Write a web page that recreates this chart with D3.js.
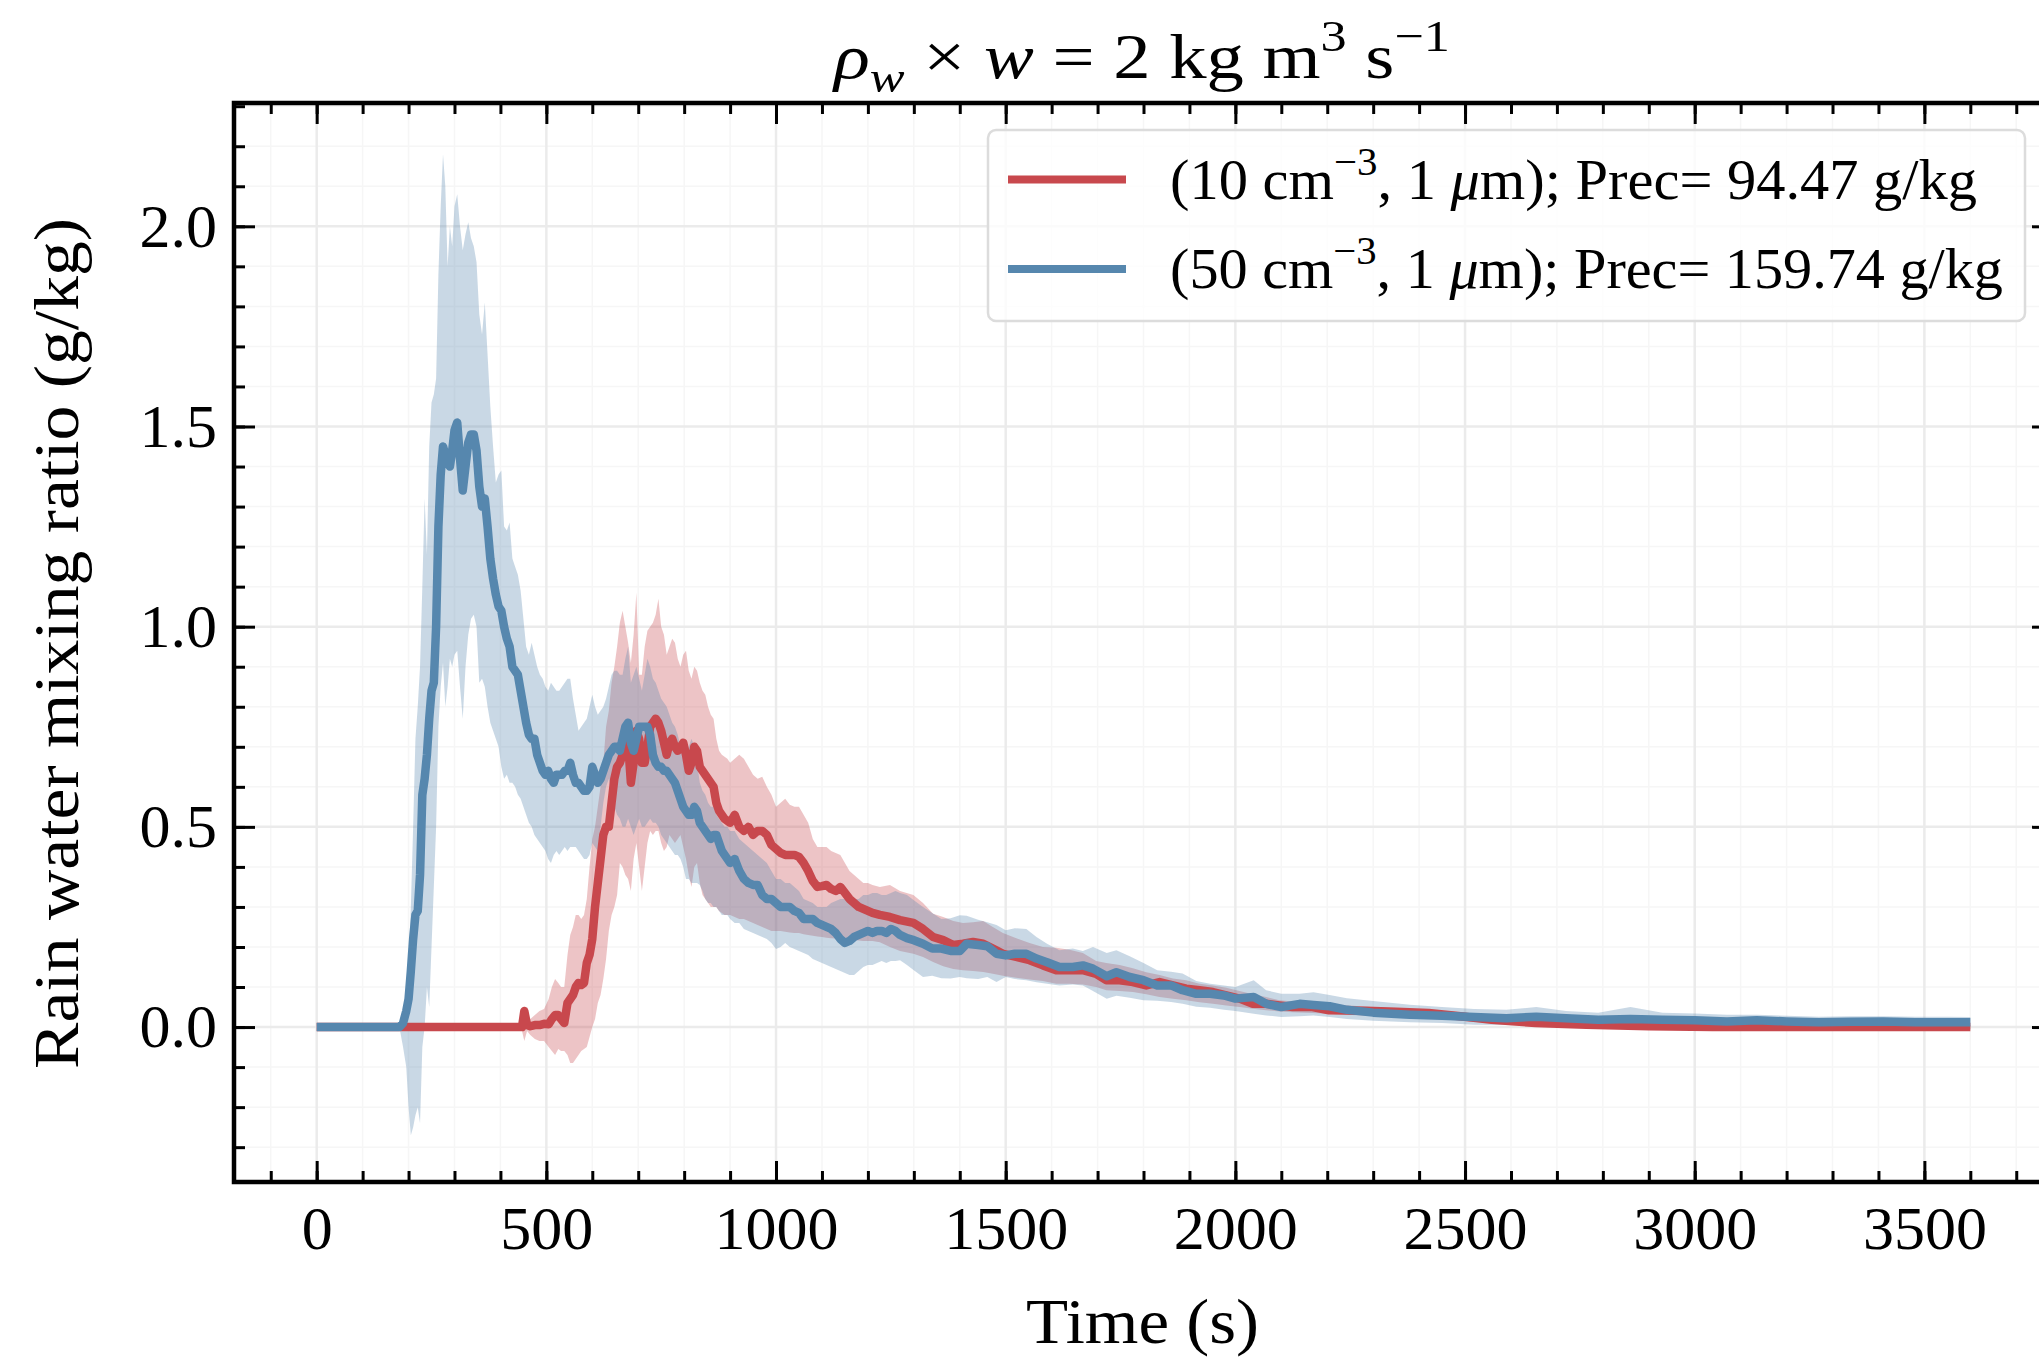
<!DOCTYPE html>
<html>
<head>
<meta charset="utf-8">
<script src="https://cdn.jsdelivr.net/npm/d3@7"></script>
<style>
  body { margin: 0; background: #fff; }
  svg { display: block; font-family: "Liberation Serif", "DejaVu Serif", serif; }
</style>
</head>
<body>
<div id="chart"></div>
<script>
// Rain water mixing ratio, two aerosol setups: [time (s), mean, lower, upper] (g/kg)
const blueRows = [
  [0,0,0,0],[180,0,0,0],[188,0.01,-0.05,0.03],[195,0.04,-0.1,0.08],[200,0.07,-0.2,0.15],
  [205,0.14,-0.27,0.3],[210,0.22,-0.25,0.5],[215,0.28,-0.22,0.72],[220,0.29,-0.2,0.8],
  [225,0.38,-0.24,0.9],[230,0.58,-0.05,1.1],[235,0.62,0.0,1.32],[240,0.68,0.1,1.18],
  [245,0.77,0.05,1.45],[250,0.84,0.2,1.56],[255,0.86,0.35,1.58],[260,1.0,0.5,1.62],
  [265,1.25,0.75,1.88],[270,1.38,0.85,2.05],[275,1.45,0.91,2.18],[280,1.43,0.8,2.1],
  [285,1.41,0.85,1.9],[290,1.40,0.92,2.0],[295,1.44,0.9,1.95],[300,1.49,0.93,2.05],
  [306,1.51,0.94,2.08],[312,1.42,0.85,2.0],[318,1.34,0.77,1.94],[324,1.40,0.9,1.98],
  [330,1.46,0.98,2.01],[336,1.48,1.02,1.97],[342,1.48,1.03,1.95],[348,1.44,1.0,1.91],
  [354,1.35,0.86,1.78],[360,1.30,0.87,1.73],[366,1.32,0.85,1.81],[372,1.25,0.8,1.68],
  [378,1.17,0.76,1.55],[384,1.12,0.74,1.45],[390,1.08,0.72,1.36],[396,1.05,0.70,1.38],
  [402,1.04,0.65,1.39],[408,1.0,0.62,1.25],[414,0.97,0.63,1.24],[420,0.95,0.61,1.26],
  [426,0.90,0.61,1.17],[432,0.89,0.60,1.15],[438,0.88,0.58,1.13],[444,0.84,0.57,1.09],
  [450,0.80,0.55,1.02],[456,0.76,0.53,0.95],[462,0.73,0.51,0.93],[468,0.72,0.50,0.96],
  [474,0.72,0.48,0.93],[480,0.68,0.47,0.9],[486,0.66,0.46,0.88],[492,0.64,0.45,0.87],
  [498,0.63,0.44,0.85],[504,0.64,0.42,0.84],[510,0.62,0.41,0.86],[516,0.61,0.43,0.85],
  [522,0.63,0.44,0.84],[528,0.63,0.43,0.84],[534,0.63,0.44,0.85],[540,0.64,0.45,0.86],
  [546,0.64,0.44,0.87],[552,0.66,0.45,0.87],[558,0.63,0.45,0.82],[564,0.61,0.45,0.78],
  [570,0.61,0.44,0.74],[576,0.60,0.43,0.75],[582,0.59,0.42,0.76],[588,0.59,0.42,0.77],
  [594,0.60,0.43,0.80],[600,0.65,0.46,0.83],[606,0.63,0.45,0.80],[612,0.61,0.44,0.78],
  [618,0.62,0.50,0.79],[624,0.64,0.56,0.80],[630,0.66,0.60,0.82],[636,0.68,0.62,0.85],
  [642,0.69,0.58,0.88],[648,0.70,0.55,0.89],[654,0.70,0.53,0.89],[660,0.69,0.52,0.88],
  [666,0.72,0.50,0.88],[672,0.75,0.50,0.92],[678,0.76,0.52,0.95],[684,0.71,0.50,0.86],
  [690,0.69,0.48,0.88],[696,0.72,0.50,0.90],[702,0.75,0.52,0.87],[708,0.75,0.50,0.84],
  [714,0.75,0.50,0.88],[720,0.75,0.51,0.92],[726,0.73,0.52,0.90],[732,0.68,0.51,0.87],
  [738,0.66,0.51,0.86],[744,0.65,0.50,0.84],[750,0.65,0.48,0.82],[756,0.64,0.47,0.81],
  [762,0.64,0.46,0.80],[768,0.63,0.45,0.78],[774,0.62,0.44,0.76],[780,0.61,0.43,0.75],
  [786,0.59,0.43,0.73],[792,0.57,0.42,0.70],[798,0.55,0.40,0.68],[804,0.54,0.37,0.69],
  [810,0.53,0.37,0.70],[816,0.53,0.36,0.72],[822,0.55,0.36,0.70],[828,0.54,0.36,0.66],
  [834,0.51,0.355,0.61],[840,0.50,0.34,0.59],[846,0.49,0.32,0.58],[852,0.48,0.31,0.56],
  [858,0.47,0.31,0.55],[864,0.48,0.30,0.55],[870,0.48,0.30,0.53],[876,0.46,0.29,0.52],
  [882,0.44,0.28,0.51],[888,0.43,0.28,0.50],[894,0.42,0.28,0.50],[900,0.41,0.27,0.49],
  [910,0.42,0.26,0.49],[920,0.39,0.26,0.47],[930,0.37,0.245,0.46],[940,0.36,0.24,0.45],
  [950,0.355,0.235,0.44],[960,0.355,0.23,0.43],[970,0.33,0.225,0.42],[980,0.32,0.22,0.41],
  [990,0.32,0.21,0.39],[1000,0.31,0.195,0.37],[1010,0.30,0.20,0.37],[1020,0.30,0.21,0.36],
  [1030,0.30,0.20,0.36],[1040,0.29,0.195,0.35],[1050,0.285,0.19,0.34],[1060,0.27,0.185,0.32],
  [1070,0.27,0.18,0.315],[1080,0.27,0.17,0.31],[1090,0.26,0.165,0.30],[1100,0.255,0.16,0.30],
  [1110,0.25,0.155,0.30],[1120,0.245,0.15,0.31],[1130,0.235,0.145,0.315],[1140,0.22,0.14,0.32],
  [1150,0.21,0.135,0.32],[1160,0.215,0.13,0.32],[1170,0.225,0.13,0.32],[1180,0.23,0.14,0.32],
  [1190,0.235,0.15,0.33],[1200,0.24,0.155,0.33],[1210,0.235,0.155,0.335],[1220,0.24,0.16,0.335],
  [1230,0.24,0.165,0.33],[1240,0.235,0.16,0.33],[1250,0.245,0.165,0.335],[1260,0.24,0.165,0.34],
  [1270,0.23,0.167,0.335],[1285,0.222,0.155,0.33],[1300,0.217,0.142,0.317],[1320,0.208,0.125,0.30],
  [1340,0.196,0.128,0.285],[1360,0.196,0.122,0.27],[1380,0.19,0.121,0.272],[1400,0.19,0.125,0.279],
  [1415,0.208,0.122,0.278],[1440,0.205,0.12,0.268],[1460,0.202,0.125,0.262],[1480,0.183,0.1125,0.255],
  [1500,0.179,0.125,0.242],[1520,0.183,0.12,0.247],[1545,0.183,0.117,0.245],[1567,0.171,0.112,0.225],
  [1590,0.162,0.108,0.208],[1617,0.15,0.104,0.192],[1646,0.15,0.106,0.196],[1668,0.154,0.104,0.19],
  [1690,0.146,0.09,0.2],[1720,0.127,0.071,0.185],[1741,0.137,0.078,0.192],[1770,0.125,0.073,0.177],
  [1800,0.117,0.067,0.16],[1830,0.104,0.066,0.142],[1860,0.104,0.0625,0.138],[1885,0.092,0.058,0.134],
  [1915,0.083,0.051,0.115],[1945,0.083,0.048,0.108],[1975,0.079,0.043,0.104],[2000,0.071,0.04,0.1],
  [2040,0.075,0.033,0.117],[2067,0.058,0.029,0.092],[2100,0.05,0.025,0.083],[2140,0.058,0.027,0.083],
  [2170,0.055,0.029,0.087],[2205,0.052,0.025,0.08],[2243,0.043,0.02,0.072],[2300,0.036,0.016,0.065],
  [2380,0.031,0.012,0.056],[2450,0.028,0.01,0.05],[2520,0.025,0.006,0.045],[2590,0.022,0.005,0.043],
  [2655,0.026,0.004,0.05],[2720,0.022,0.0,0.04],[2790,0.018,-0.002,0.036],[2860,0.02,-0.002,0.05],
  [2930,0.018,-0.004,0.036],[3000,0.017,-0.005,0.034],[3070,0.014,-0.006,0.031],[3135,0.017,-0.005,0.031],
  [3200,0.014,-0.006,0.028],[3270,0.012,-0.007,0.026],[3340,0.013,-0.007,0.027],[3410,0.014,-0.007,0.027],
  [3480,0.012,-0.007,0.026],[3550,0.012,-0.007,0.026],[3600,0.012,-0.007,0.025]
];

const redRows = [
  [0,0,0,0],[440,0,0,0],[447,0,-0.01,0.01],[452,0.04,-0.035,0.045],[458,0.005,-0.01,0.02],
  [465,0.002,-0.02,0.02],[475,0.005,-0.03,0.03],[485,0.005,-0.035,0.04],[495,0.008,-0.035,0.045],
  [505,0.007,-0.05,0.07],[512,0.02,-0.06,0.1],[519,0.03,-0.07,0.12],[526,0.03,-0.055,0.11],
  [532,0.02,-0.06,0.1],[539,0.01,-0.06,0.1],[546,0.06,-0.07,0.18],[552,0.07,-0.09,0.23],
  [558,0.08,-0.09,0.25],[564,0.1,-0.08,0.28],[570,0.11,-0.07,0.28],[576,0.105,-0.06,0.27],
  [582,0.11,-0.055,0.28],[588,0.16,-0.05,0.32],[594,0.18,-0.025,0.4],[600,0.22,0,0.47],
  [606,0.3,0.02,0.5],[612,0.36,0.06,0.55],[618,0.42,0.08,0.6],[624,0.48,0.12,0.66],
  [630,0.5,0.17,0.75],[636,0.5,0.24,0.79],[642,0.56,0.28,0.86],[648,0.62,0.3,0.9],
  [654,0.65,0.33,0.95],[660,0.66,0.41,1.01],[666,0.68,0.40,1.04],[672,0.70,0.38,1.0],
  [678,0.71,0.37,0.96],[684,0.61,0.34,0.91],[690,0.66,0.42,0.98],[696,0.74,0.46,1.085],
  [702,0.72,0.40,0.88],[708,0.66,0.34,0.88],[714,0.66,0.40,0.95],[720,0.70,0.46,0.99],
  [726,0.75,0.49,1.0],[732,0.76,0.48,1.01],[738,0.77,0.49,1.03],[744,0.76,0.49,1.07],
  [750,0.74,0.46,1.0],[756,0.71,0.44,0.98],[762,0.68,0.45,0.93],[768,0.71,0.48,0.95],
  [774,0.72,0.47,0.97],[780,0.70,0.46,0.96],[786,0.69,0.47,0.92],[792,0.70,0.48,0.90],
  [798,0.71,0.45,0.93],[804,0.68,0.42,0.94],[810,0.64,0.38,0.89],[816,0.66,0.35,0.87],
  [822,0.70,0.40,0.90],[828,0.69,0.41,0.89],[834,0.65,0.36,0.86],[840,0.64,0.33,0.84],
  [846,0.63,0.32,0.83],[852,0.62,0.31,0.80],[858,0.61,0.30,0.78],[864,0.60,0.30,0.77],
  [870,0.56,0.30,0.72],[876,0.54,0.29,0.69],[882,0.53,0.285,0.68],[888,0.52,0.28,0.675],
  [894,0.515,0.28,0.67],[900,0.51,0.28,0.66],[910,0.53,0.275,0.67],[920,0.50,0.27,0.68],
  [930,0.49,0.27,0.67],[940,0.50,0.265,0.65],[950,0.48,0.26,0.63],[960,0.49,0.255,0.62],
  [970,0.49,0.25,0.625],[980,0.48,0.245,0.60],[990,0.455,0.24,0.58],[1000,0.445,0.24,0.55],
  [1010,0.435,0.24,0.56],[1020,0.43,0.238,0.57],[1030,0.43,0.236,0.555],[1040,0.43,0.235,0.55],
  [1050,0.425,0.235,0.55],[1060,0.41,0.232,0.53],[1070,0.39,0.23,0.51],[1080,0.365,0.228,0.47],
  [1090,0.35,0.226,0.45],[1100,0.352,0.225,0.45],[1110,0.355,0.223,0.45],[1120,0.345,0.222,0.44],
  [1130,0.34,0.221,0.435],[1140,0.35,0.22,0.43],[1150,0.335,0.22,0.41],[1160,0.32,0.218,0.39],
  [1170,0.31,0.217,0.38],[1180,0.30,0.216,0.37],[1190,0.295,0.215,0.36],[1200,0.29,0.215,0.36],
  [1210,0.285,0.215,0.355],[1226,0.28,0.212,0.35],[1248,0.275,0.2,0.355],[1270,0.267,0.19,0.34],
  [1299,0.26,0.183,0.33],[1320,0.245,0.175,0.31],[1342,0.225,0.1625,0.283],[1364,0.217,0.152,0.275],
  [1386,0.205,0.145,0.265],[1407,0.208,0.142,0.26],[1429,0.2125,0.14,0.262],[1451,0.208,0.1375,0.265],
  [1472,0.196,0.133,0.25],[1494,0.183,0.128,0.235],[1523,0.175,0.123,0.222],[1552,0.167,0.119,0.21],
  [1581,0.154,0.115,0.2],[1610,0.142,0.108,0.198],[1639,0.142,0.108,0.193],[1668,0.142,0.106,0.185],
  [1697,0.133,0.1,0.165],[1719,0.117,0.092,0.16],[1748,0.117,0.09,0.155],[1777,0.1125,0.0875,0.147],
  [1806,0.104,0.082,0.137],[1835,0.1125,0.075,0.13],[1864,0.104,0.071,0.121],[1893,0.096,0.067,0.117],
  [1922,0.092,0.062,0.108],[1951,0.0875,0.058,0.104],[1980,0.079,0.054,0.098],[2009,0.071,0.05,0.09],
  [2038,0.058,0.046,0.082],[2067,0.058,0.042,0.075],[2096,0.054,0.039,0.067],[2125,0.05,0.037,0.064],
  [2168,0.05,0.035,0.062],[2204,0.042,0.033,0.058],[2284,0.041,0.028,0.051],[2350,0.038,0.025,0.047],
  [2421,0.035,0.022,0.043],[2490,0.027,0.016,0.037],[2558,0.018,0.01,0.031],[2654,0.01,0.004,0.02],
  [2764,0.006,0.0,0.013],[2901,0.002,-0.004,0.009],[3039,0.0,-0.005,0.006],[3200,0.0,-0.005,0.005],
  [3400,0.0,-0.005,0.005],[3600,0.0,-0.005,0.005]
];

const xTicks = [0, 500, 1000, 1500, 2000, 2500, 3000, 3500];
const yTicks = [0.0, 0.5, 1.0, 1.5, 2.0];
const legendLabels = [
  { num: "10", prec: "94.47" },
  { num: "50", prec: "159.74" }
];
const red = "#c8484d", blue = "#5687ae";

const width = 2039, height = 1363;
const margin = { left: 234, top: 103, right: 2053, bottom: 1182 };
const fontSize = 62;

const x = d3.scaleLinear().domain([-180, 3780]).range([margin.left, margin.right]);
const y = d3.scaleLinear().domain([-0.387, 2.308]).range([margin.bottom, margin.top]);

const svg = d3.select("#chart").append("svg")
    .attr("width", width)
    .attr("height", height);

svg.append("rect").attr("width", width).attr("height", height).attr("fill", "white");

svg.append("clipPath").attr("id", "plot-clip")
  .append("rect")
    .attr("x", margin.left).attr("y", margin.top)
    .attr("width", margin.right - margin.left)
    .attr("height", margin.bottom - margin.top);

// grid: minor first, then major
const xMinor = d3.range(-100, 3781, 100).filter(d => d % 500 !== 0);
const yMinor = d3.range(-3, 24).map(d => d / 10).filter(d => Math.round(d * 10) % 5 !== 0);
const grid = svg.append("g").attr("clip-path", "url(#plot-clip)");
grid.selectAll(".gx-minor").data(xMinor).enter().append("line")
    .attr("x1", d => x(d)).attr("x2", d => x(d))
    .attr("y1", margin.top).attr("y2", margin.bottom)
    .attr("stroke", "#f6f6f6").attr("stroke-width", 1.5);
grid.selectAll(".gy-minor").data(yMinor).enter().append("line")
    .attr("y1", d => y(d)).attr("y2", d => y(d))
    .attr("x1", margin.left).attr("x2", margin.right)
    .attr("stroke", "#f6f6f6").attr("stroke-width", 1.5);
grid.selectAll(".gx").data(xTicks).enter().append("line")
    .attr("x1", d => x(d)).attr("x2", d => x(d))
    .attr("y1", margin.top).attr("y2", margin.bottom)
    .attr("stroke", "#ebebeb").attr("stroke-width", 2.5);
grid.selectAll(".gy").data(yTicks).enter().append("line")
    .attr("y1", d => y(d)).attr("y2", d => y(d))
    .attr("x1", margin.left).attr("x2", margin.right)
    .attr("stroke", "#ebebeb").attr("stroke-width", 2.5);

// bands and lines
const area = d3.area().x(d => x(d[0])).y0(d => y(d[2])).y1(d => y(d[3]));
const line = d3.line().x(d => x(d[0])).y(d => y(d[1]));
const plot = svg.append("g").attr("clip-path", "url(#plot-clip)");

plot.append("path").datum(redRows).attr("d", area)
    .attr("fill", red).attr("fill-opacity", 0.32);
plot.append("path").datum(blueRows).attr("d", area)
    .attr("fill", blue).attr("fill-opacity", 0.32);
plot.append("path").datum(redRows).attr("d", line)
    .attr("fill", "none").attr("stroke", red).attr("stroke-width", 8.5)
    .attr("stroke-linejoin", "round").attr("stroke-linecap", "butt");
plot.append("path").datum(blueRows).attr("d", line)
    .attr("fill", "none").attr("stroke", blue).attr("stroke-width", 8.5)
    .attr("stroke-linejoin", "round").attr("stroke-linecap", "butt");

// axes: inward ticks on all four sides
const xMinorTicks = d3.range(-100, 3781, 100);
const yMinorTicks = d3.range(-3, 24).map(d => d / 10);

function styleAxis(g) {
  g.select(".domain").remove();
  g.selectAll("line").attr("stroke", "black").attr("stroke-width", 3);
  g.selectAll("text").attr("font-size", fontSize).attr("fill", "black")
      .attr("font-family", "Liberation Serif, DejaVu Serif, serif");
}

svg.append("g").attr("transform", `translate(0,${margin.bottom})`)
    .call(d3.axisBottom(x).tickValues(xTicks).tickFormat(d3.format("d"))
      .tickSizeInner(-21).tickSizeOuter(0).tickPadding(23))
    .call(styleAxis);
svg.append("g").attr("transform", `translate(0,${margin.bottom})`)
    .call(d3.axisBottom(x).tickValues(xMinorTicks).tickFormat("")
      .tickSizeInner(-11).tickSizeOuter(0))
    .call(styleAxis);
svg.append("g").attr("transform", `translate(0,${margin.top})`)
    .call(d3.axisTop(x).tickValues(xTicks).tickFormat("")
      .tickSizeInner(-21).tickSizeOuter(0))
    .call(styleAxis);
svg.append("g").attr("transform", `translate(0,${margin.top})`)
    .call(d3.axisTop(x).tickValues(xMinorTicks).tickFormat("")
      .tickSizeInner(-11).tickSizeOuter(0))
    .call(styleAxis);
svg.append("g").attr("transform", `translate(${margin.left},0)`)
    .call(d3.axisLeft(y).tickValues(yTicks).tickFormat(d3.format(".1f"))
      .tickSizeInner(-21).tickSizeOuter(0).tickPadding(17))
    .call(styleAxis);
svg.append("g").attr("transform", `translate(${margin.left},0)`)
    .call(d3.axisLeft(y).tickValues(yMinorTicks).tickFormat("")
      .tickSizeInner(-11).tickSizeOuter(0))
    .call(styleAxis);
svg.append("g").attr("transform", `translate(${margin.right},0)`)
    .call(d3.axisRight(y).tickValues(yTicks).tickFormat("")
      .tickSizeInner(-21).tickSizeOuter(0))
    .call(styleAxis);
svg.append("g").attr("transform", `translate(${margin.right},0)`)
    .call(d3.axisRight(y).tickValues(yMinorTicks).tickFormat("")
      .tickSizeInner(-11).tickSizeOuter(0))
    .call(styleAxis);

// frame
svg.append("rect")
    .attr("x", margin.left).attr("y", margin.top)
    .attr("width", margin.right - margin.left)
    .attr("height", margin.bottom - margin.top)
    .attr("fill", "none").attr("stroke", "black").attr("stroke-width", 4.5);

// rich text helper (italic, superscript, subscript pieces)
function rich(sel, parts, size) {
  let shift = 0;
  parts.forEach(p => {
    const ts = sel.append("tspan").text(p.t);
    let target = 0;
    if (p.sup) target = -size * 0.42;
    if (p.sub) target = size * 0.22;
    ts.attr("dy", target - shift);
    shift = target;
    if (p.sup || p.sub) ts.attr("font-size", size * 0.7);
    if (p.it) ts.attr("font-style", "italic");
  });
}

// title
const title = svg.append("text")
    .attr("x", 834)
    .attr("y", 78)
    .attr("font-size", 64)
    .attr("textLength", 616)
    .attr("lengthAdjust", "spacingAndGlyphs");
rich(title, [
  { t: "ρ", it: true }, { t: "w", it: true, sub: true },
  { t: " × " }, { t: "w", it: true }, { t: " = 2 kg m" },
  { t: "3", sup: true }, { t: " s" }, { t: "−1", sup: true }
], 64);

// axis labels
svg.append("text")
    .attr("x", 1026)
    .attr("y", 1343)
    .attr("font-size", 64)
    .attr("textLength", 233)
    .attr("lengthAdjust", "spacingAndGlyphs")
    .text("Time (s)");
svg.append("text")
    .attr("transform", `translate(78,1069) rotate(-90)`)
    .attr("font-size", 64)
    .attr("textLength", 851)
    .attr("lengthAdjust", "spacingAndGlyphs")
    .text("Rain water mixing ratio (g/kg)");

// legend
const legend = svg.append("g");
legend.append("rect")
    .attr("x", 988).attr("y", 130)
    .attr("width", 1037).attr("height", 191)
    .attr("rx", 8)
    .attr("fill", "white").attr("fill-opacity", 0.8)
    .attr("stroke", "#dcdcdc").attr("stroke-width", 2.5);
const legendColors = [red, blue];
const rowY = [179.5, 269];
const rowWidth = [807, 833];
legendLabels.forEach((d, i) => {
  legend.append("line")
    .attr("x1", 1008).attr("x2", 1126)
    .attr("y1", rowY[i]).attr("y2", rowY[i])
    .attr("stroke", legendColors[i]).attr("stroke-width", 8);
  const t = legend.append("text")
    .attr("x", 1170).attr("y", rowY[i] + 19)
    .attr("font-size", 56)
    .attr("textLength", rowWidth[i])
    .attr("lengthAdjust", "spacingAndGlyphs");
  rich(t, [
    { t: `(${d.num} cm` }, { t: "−3", sup: true },
    { t: ", 1 " }, { t: "μ", it: true }, { t: `m); Prec= ${d.prec} g/kg` }
  ], 56);
});
</script>
</body>
</html>
